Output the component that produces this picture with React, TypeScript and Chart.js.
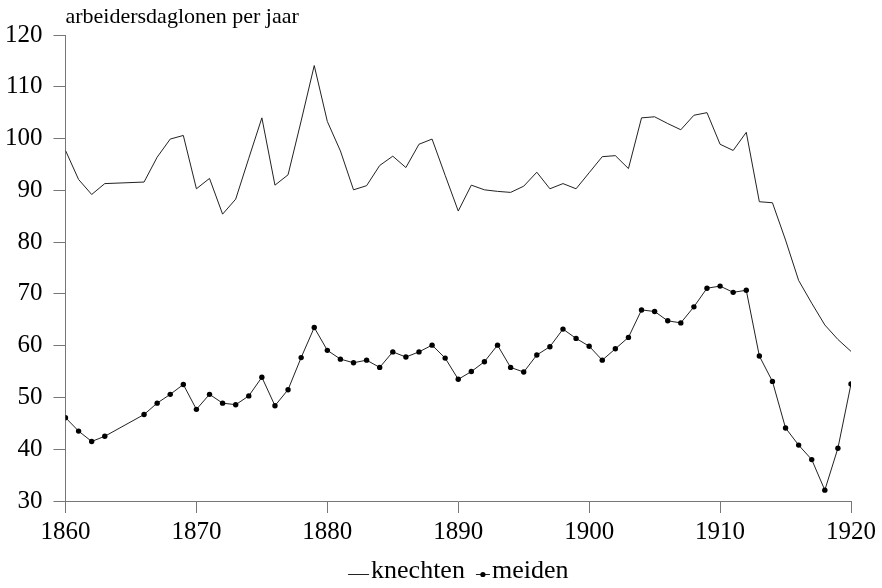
import React, { useEffect, useRef } from "react";
import { Chart, registerables } from "chart.js";

Chart.register(...registerables);

const titleText = "arbeidersdaglonen per jaar";
const years = [
  1860, 1861, 1862, 1863, 1864, 1865, 1866, 1867, 1868, 1869,
  1870, 1871, 1872, 1873, 1874, 1875, 1876, 1877, 1878, 1879,
  1880, 1881, 1882, 1883, 1884, 1885, 1886, 1887, 1888, 1889,
  1890, 1891, 1892, 1893, 1894, 1895, 1896, 1897, 1898, 1899,
  1900, 1901, 1902, 1903, 1904, 1905, 1906, 1907, 1908, 1909,
  1910, 1911, 1912, 1913, 1914, 1915, 1916, 1917, 1918, 1919,
  1920,
];
const knechten = [
  97.7, 92.1, 89.2, 91.3, null, null, 91.6, 96.4, 99.9, 100.6,
  90.3, 92.3, 85.4, 88.3, 96.2, 104.0, 91.0, 93.0, 103.4, 114.1,
  103.3, 97.6, 90.1, 90.9, 94.8, 96.6, 94.4, 98.9, 99.9, 92.9,
  86.0, 91.0, 90.1, 89.8, 89.6, 90.8, 93.5, 90.3, 91.3, 90.3,
  93.4, 96.5, 96.7, 94.2, 104.0, 104.2, 102.9, 101.7, 104.5, 105.0,
  98.9, 97.7, 101.2, 87.8, 87.6, 80.4, 72.6, 68.2, 64.0, 61.2,
  58.9,
];
const meiden = [
  46.1, 43.5, 41.5, 42.5, null, null, 46.7, 48.9, 50.6, 52.5,
  47.7, 50.6, 48.9, 48.6, 50.3, 53.9, 48.4, 51.5, 57.7, 63.5,
  59.1, 57.4, 56.7, 57.2, 55.8, 58.8, 57.8, 58.8, 60.1, 57.6,
  53.5, 55.0, 56.9, 60.1, 55.8, 54.9, 58.2, 59.8, 63.2, 61.4,
  59.9, 57.2, 59.4, 61.6, 66.9, 66.6, 64.8, 64.4, 67.5, 71.1,
  71.5, 70.3, 70.7, 58.0, 53.1, 44.1, 40.8, 38.0, 32.1, 40.2,
  52.6,
];
const seriesLabels = ["knechten", "meiden"];

const FONT = '"Liberation Serif", "Times New Roman", serif';

const titlePlugin = {
  id: "leftTitle",
  afterDraw(chart: any) {
    const ctx = chart.ctx;
    ctx.save();
    ctx.font = `22px ${FONT}`;
    ctx.fillStyle = "#000";
    ctx.textAlign = "left";
    ctx.textBaseline = "alphabetic";
    ctx.fillText(titleText, chart.chartArea.left, 23);
    ctx.restore();
  },
};

const legendPlugin = {
  id: "customLegend",
  afterDraw(chart: any) {
    const ctx = chart.ctx;
    const area = chart.chartArea;
    ctx.save();
    ctx.font = `26px ${FONT}`;
    ctx.textBaseline = "middle";
    ctx.textAlign = "left";
    const y = 574;
    const lineW = 21;
    const markW = 14;
    const gapAfterSym = 2;
    const gapItems = 11;
    const w0 = ctx.measureText(seriesLabels[0]).width;
    const w1 = ctx.measureText(seriesLabels[1]).width;
    const total = lineW + gapAfterSym + w0 + gapItems + markW + gapAfterSym + w1;
    let x = (area.left + area.right) / 2 - total / 2;
    ctx.strokeStyle = "#222";
    ctx.lineWidth = 1;
    ctx.beginPath();
    ctx.moveTo(x, y + 0.5);
    ctx.lineTo(x + lineW, y + 0.5);
    ctx.stroke();
    x += lineW + gapAfterSym;
    ctx.fillStyle = "#000";
    ctx.fillText(seriesLabels[0], x, y - 3);
    x += w0 + gapItems;
    ctx.beginPath();
    ctx.moveTo(x, y + 0.5);
    ctx.lineTo(x + markW, y + 0.5);
    ctx.stroke();
    ctx.beginPath();
    ctx.arc(x + markW / 2, y + 0.5, 2.6, 0, Math.PI * 2);
    ctx.fill();
    x += markW + gapAfterSym;
    ctx.fillText(seriesLabels[1], x, y - 3);
    ctx.restore();
  },
};

export default function App() {
  const ref = useRef<HTMLCanvasElement | null>(null);
  useEffect(() => {
    document.body.style.margin = "0";
    if (!ref.current) return;
    const chart = new Chart(ref.current, {
      type: "line",
      data: {
        datasets: [
          {
            label: seriesLabels[0],
            data: years.map((yr, i) => ({ x: yr, y: knechten[i] })),
            borderColor: "#222",
            borderWidth: 1,
            pointRadius: 0,
            tension: 0,
            spanGaps: true,
          },
          {
            label: seriesLabels[1],
            data: years.map((yr, i) => ({ x: yr, y: meiden[i] })),
            borderColor: "#222",
            backgroundColor: "#000",
            borderWidth: 1,
            pointRadius: 2.7,
            pointBackgroundColor: "#000",
            pointBorderColor: "#000",
            pointBorderWidth: 0,
            tension: 0,
            spanGaps: true,
          },
        ],
      } as any,
      options: {
        animation: false,
        responsive: true,
        maintainAspectRatio: false,
        layout: { padding: { top: 35, right: 31, left: 0, bottom: 0 } },
        plugins: {
          legend: { display: false },
          title: { display: false },
          tooltip: { enabled: false },
        },
        scales: {
          x: {
            type: "linear",
            min: 1860,
            max: 1920,
            afterFit: (s: any) => {
              s.height = 87;
            },
            ticks: {
              stepSize: 10,
              color: "#000",
              font: { family: FONT, size: 25 },
              padding: 4,
              maxRotation: 0,
              callback: (v: any) => String(v),
            },
            grid: {
              drawOnChartArea: false,
              drawTicks: true,
              tickLength: 12,
              color: "#777",
            },
            border: { display: true, color: "#777", width: 1 },
          },
          y: {
            type: "linear",
            min: 30,
            max: 120,
            afterFit: (s: any) => {
              s.width = 65.5;
            },
            ticks: {
              stepSize: 10,
              color: "#000",
              font: { family: FONT, size: 25 },
              padding: 11,
            },
            grid: {
              drawOnChartArea: false,
              drawTicks: true,
              tickLength: 12,
              color: "#777",
            },
            border: { display: true, color: "#777", width: 1 },
          },
        },
      } as any,
      plugins: [titlePlugin, legendPlugin],
    });
    return () => chart.destroy();
  }, []);
  return (
    <div style={{ width: 882, height: 588, position: "relative" }}>
      <canvas ref={ref} />
    </div>
  );
}
